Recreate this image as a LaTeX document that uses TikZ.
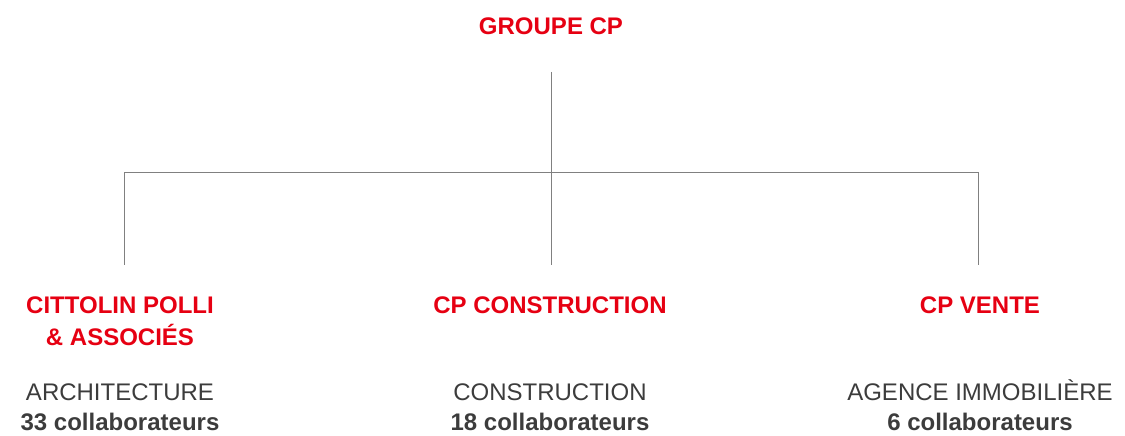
\documentclass[tikz,border=0pt]{standalone}
\usepackage{fontspec}
\setmainfont{Liberation Sans}
\usepackage{tikz}
\usetikzlibrary{positioning}
\definecolor{rougecp}{RGB}{230,0,18}
\definecolor{grisligne}{RGB}{128,128,128}
\definecolor{gristexte}{RGB}{60,60,60}
\tikzset{
  entite/.style={text=rougecp, font=\bfseries\fontsize{24}{32}\selectfont, align=center, anchor=base, inner sep=0pt},
  metier/.style={text=gristexte, font=\fontsize{24}{30}\selectfont, align=center, anchor=base, inner sep=0pt},
  trait/.style={draw=grisligne, line width=0.9pt}
}

\begin{document}
\begin{tikzpicture}[x=1pt, y=-1pt]
  \useasboundingbox (0,0) rectangle (1125,436);
  % societe mere
  \node[entite] (groupe) at (551,35) {GROUPE CP};
  % points de l'arbre
  \coordinate (haut) at (551,72);
  \coordinate (centre) at (551,172);
  \coordinate (gauche) at (124,172);
  \coordinate (droite) at (978,172);
  \coordinate (basg) at (124,265);
  \coordinate (basc) at (551,265);
  \coordinate (basd) at (978,265);
  % filiales (ancre base = derniere ligne)
  \node[entite] (cittolin) at (120,345) {CITTOLIN POLLI\\\& ASSOCIÉS};
  \node[entite] (construction) at (550,313) {CP CONSTRUCTION};
  \node[entite] (vente) at (980,313) {CP VENTE};
  % metiers
  \node[metier] (archi) at (120,430) {ARCHITECTURE\\\textbf{33 collaborateurs}};
  \node[metier] (batir) at (550,430) {CONSTRUCTION\\\textbf{18 collaborateurs}};
  \node[metier] (agence) at (980,430) {AGENCE IMMOBILIÈRE\\\textbf{6 collaborateurs}};
  % lignes
  \draw[trait] (haut) -- (centre);
  \draw[trait] (gauche) -- (droite);
  \draw[trait] (gauche) -- (basg);
  \draw[trait] (centre) -- (basc);
  \draw[trait] (droite) -- (basd);
\end{tikzpicture}
\end{document}
